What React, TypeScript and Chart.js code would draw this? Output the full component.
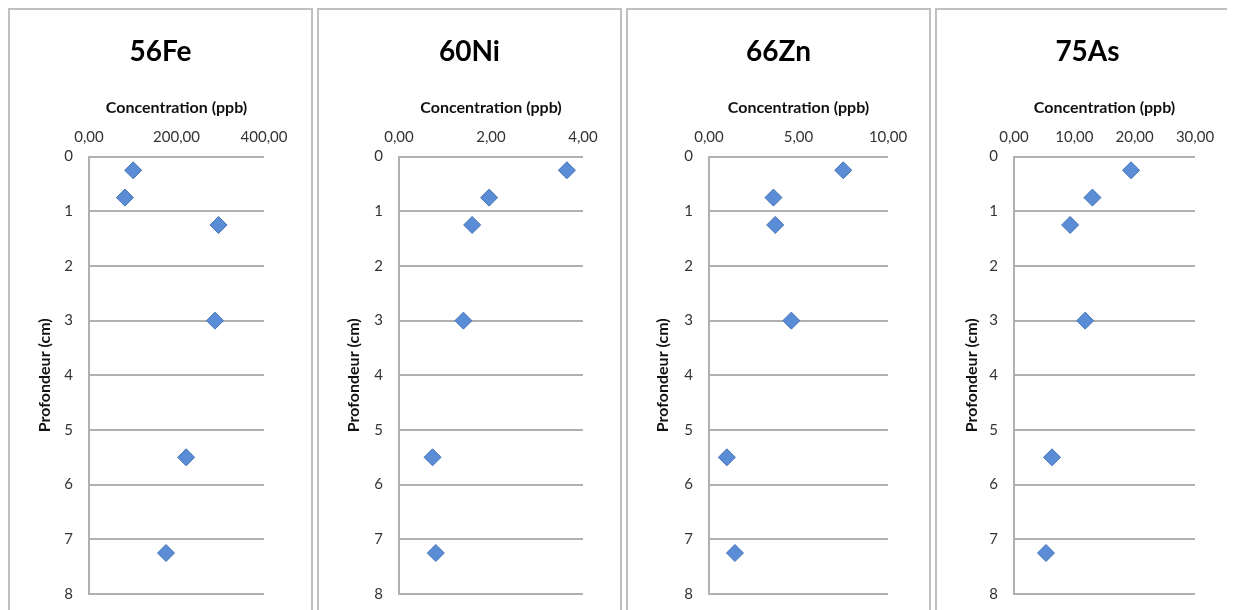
import React, { useEffect, useRef } from 'react';
import { Chart, registerables } from 'chart.js';

Chart.register(...registerables);

// ---- data ----
const depths = [0.25, 0.75, 1.25, 3, 5.5, 7.25];
const fe56 = [101, 82, 296, 288, 222, 176];
const ni60 = [3.65, 1.96, 1.59, 1.4, 0.73, 0.8];
const zn66 = [7.5, 3.6, 3.7, 4.6, 1.0, 1.45];
const as75 = [19.4, 13.0, 9.3, 11.8, 6.3, 5.3];

const titles = ['56Fe', '60Ni', '66Zn', '75As'];
const seriesValues = [fe56, ni60, zn66, as75];
const xMaxes = [400, 4, 10, 30];
const xSteps = [200, 2, 5, 10];
const xAxisTitle = 'Concentration (ppb)';
const yAxisTitle = 'Profondeur (cm)';
const yMin = 0;
const yMax = 8;

// ---- layout (per panel) ----
const leftAxisWidths = [79, 80, 81, 77];
const rightSpaces = [47, 37, 41, 43];

const FONT = 'Lato, "Open Sans", sans-serif';
const GRID = '#b0b0b0';

function Panel({ idx }: { idx: number }) {
  const ref = useRef<HTMLCanvasElement | null>(null);
  useEffect(() => {
    if (!ref.current) return;
    const vals = seriesValues[idx];
    const chart = new Chart(ref.current, {
      type: 'scatter',
      data: {
        datasets: [
          {
            data: depths.map((d, i) => ({ x: vals[i], y: d })),
            pointStyle: 'rectRot',
            pointRadius: 8.5,
            pointHoverRadius: 8.5,
            backgroundColor: '#5b8dd6',
            borderColor: '#4272b6',
            borderWidth: 1,
          },
        ],
      },
      options: {
        responsive: false,
        animation: false,
        events: [],
        layout: { padding: { left: 0, right: 0, top: 0, bottom: 0 } },
        plugins: {
          legend: { display: false },
          tooltip: { enabled: false },
          title: {
            display: true,
            text: titles[idx],
            color: '#000',
            font: { family: FONT, size: 28, weight: 'bold', lineHeight: 1.2 },
            padding: { top: 25, bottom: 0 },
          },
        },
        scales: {
          x: {
            type: 'linear',
            position: 'top',
            min: 0,
            max: xMaxes[idx],
            ticks: {
              stepSize: xSteps[idx],
              color: '#333',
              font: { family: FONT, size: 15, lineHeight: 1.2 },
              padding: 10,
              maxRotation: 0,
              callback: (v: any) => Number(v).toFixed(2).replace('.', ','),
            },
            grid: { display: false, drawTicks: false },
            border: { display: false },
            title: {
              display: true,
              text: xAxisTitle,
              color: '#111',
              font: { family: FONT, size: 16, weight: 'bold', lineHeight: 1.2 },
              padding: { top: 30, bottom: 0 },
            },
            afterFit: (s: any) => {
              s.height = 88;
            },
          },
          y: {
            type: 'linear',
            position: 'left',
            reverse: true,
            min: yMin,
            max: yMax,
            ticks: {
              stepSize: 1,
              color: '#333',
              font: { family: FONT, size: 15, lineHeight: 1.2 },
              padding: 16,
            },
            grid: { color: GRID, lineWidth: 2, drawTicks: false },
            border: { display: true, color: GRID, width: 2 },
            title: {
              display: true,
              text: yAxisTitle,
              color: '#111',
              font: { family: FONT, size: 16, weight: 'bold', lineHeight: 1.2 },
              padding: { top: 25, bottom: 0 },
            },
            afterFit: (s: any) => {
              s.width = leftAxisWidths[idx];
            },
          },
          yR: {
            type: 'linear',
            position: 'right',
            display: true,
            ticks: { display: false },
            grid: { display: false, drawTicks: false },
            border: { display: false },
            afterFit: (s: any) => {
              s.width = rightSpaces[idx];
            },
          },
        },
      } as any,
    });
    return () => chart.destroy();
  }, [idx]);

  return (
    <div
      style={{
        width: 301,
        height: 620,
        border: '2px solid #c0c0c0',
        borderBottom: 'none',
        marginRight: 4,
        flexShrink: 0,
        background: '#fff',
      }}
    >
      <canvas ref={ref} width={301} height={609} style={{ display: 'block' }} />
    </div>
  );
}

export default function App() {
  return (
    <div
      style={{
        display: 'flex',
        width: 1227,
        height: 602,
        overflow: 'hidden',
        background: '#fff',
      }}
    >
      {titles.map((_, i) => (
        <Panel key={i} idx={i} />
      ))}
    </div>
  );
}
